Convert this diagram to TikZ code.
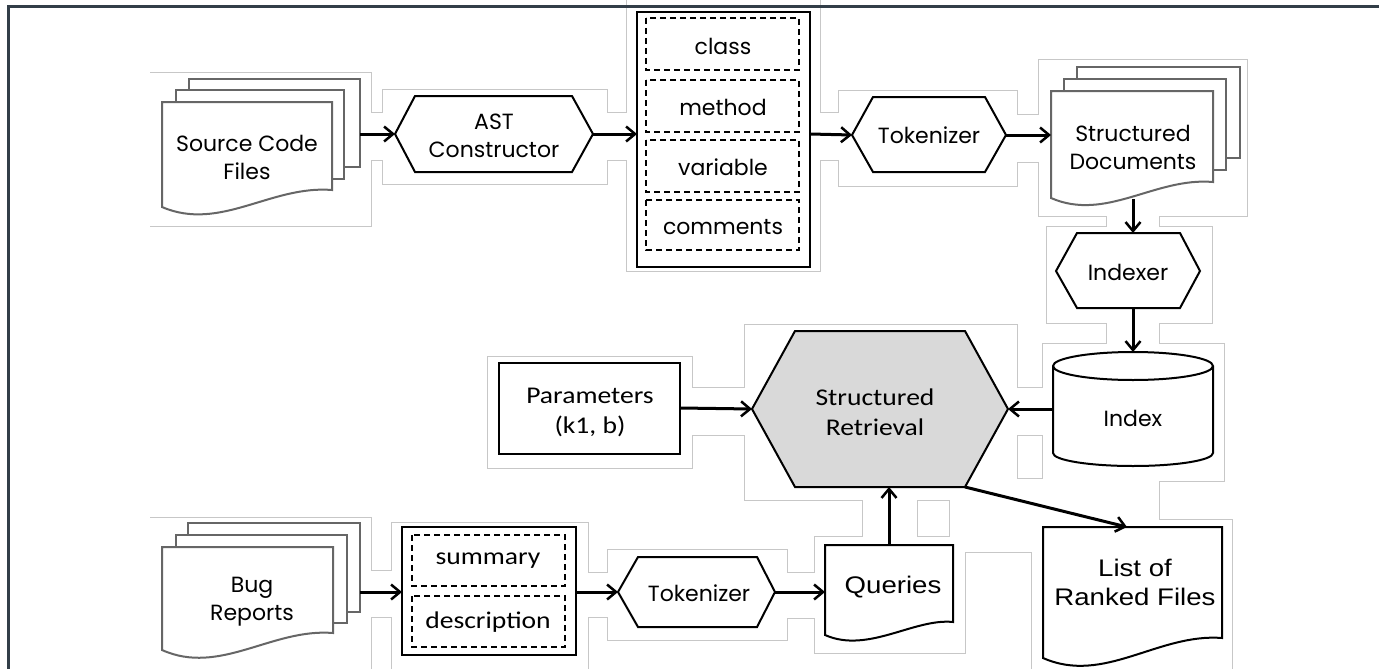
\documentclass[tikz,border=0pt]{standalone}
\usepackage{fontspec}
\setmainfont{Poppins}
\newfontfamily\calfont[FakeStretch=1.15]{Carlito}
\newfontfamily\arialfont[FakeStretch=1.15]{Liberation Sans}
\usetikzlibrary{arrows.meta}
\newcommand\geo{\fontsize{22}{28}\selectfont}
\newcommand\calf{\calfont\fontsize{24}{30}\selectfont}
\newcommand\arf{\arialfont\fontsize{24}{29}\selectfont}
\begin{document}
\begin{tikzpicture}[x=1pt,y=-1pt,
  shp/.style={line width=2pt, fill=white, draw=black},
  stk/.style={line width=2pt, fill=white, draw=black!60},
  dbox/.style={line width=1.5pt, draw=black, dash pattern=on 6pt off 4pt},
  arr/.style={line width=3pt, -{Straight Barb[length=9pt,width=15pt,line width=2.5pt]}},
  lbl/.style={font=\geo, align=center, inner sep=0pt},
  reg/.style={draw=black!22, line width=1.2pt}]
\useasboundingbox (0,0) rectangle (1379,669);
\fill[white] (0,0) rectangle (1379,669);
% faint region outlines
\begin{scope}
\clip (150,0) rectangle (1379,669);
\foreach \a/\b/\c/\d in {-20/73/371/226, 371/113/383/160, 383/90/607/184, 607/113/627/160, 627/-10/820/271, 820/113/839/160, 839/91/1017/186, 1017/115/1039/162, 1039/60/1247/216, 1107/216/1159/227, 1047/227/1212/323, 1107/323/1159/344, 1043/344/1224/481, 488/357/692/468, 692/388/745/435, 745/325/1017/500, 1017/388/1043/435, 950/479/1159/552, 1032/520/1232/690, 863/500/917/537, 815/537/965/653, 787/573/815/618, 608/550/787/640, 588/573/608/617, 392/523/588/690, 371/571/392/617, -20/518/371/690}
  \draw[reg] (\a,\b) rectangle (\c,\d);
\foreach \a/\b/\c/\d in {-20/73/371/226, 371/113/383/160, 383/90/607/184, 607/113/627/160, 627/-10/820/271, 820/113/839/160, 839/91/1017/186, 1017/115/1039/162, 1039/60/1247/216, 1107/216/1159/227, 1047/227/1212/323, 1107/323/1159/344, 1043/344/1224/481, 488/357/692/468, 692/388/745/435, 745/325/1017/500, 1017/388/1043/435, 950/479/1159/552, 1032/520/1232/690, 863/500/917/537, 815/537/965/653, 787/573/815/618, 608/550/787/640, 588/573/608/617, 392/523/588/690, 371/571/392/617, -20/518/371/690}
  \fill[white] (\a,\b) rectangle (\c,\d);
\end{scope}
% ---------- Source Code Files ----------
\draw[stk] (189,79) rectangle (360,167);
\draw[stk] (176,90) rectangle (344,179);
\draw[stk] (162,102) -- (332,102) -- (332,190) .. controls (271,185) and (220,232) .. (162,207) -- cycle;
\node[lbl] (src) at (247,157) {Source Code\\Files};
\coordinate (srcR) at (360,134);
% ---------- AST Constructor ----------
\draw[shp] (395,134) -- (415,96) -- (572,96) -- (593,134) -- (572,172) -- (415,172) -- cycle;
\node[lbl] (ast) at (494,136) {AST\\Constructor};
\coordinate (astL) at (395,134);
\coordinate (astR) at (593,134);
% ---------- class box ----------
\draw[shp] (637,12) rectangle (810,267);
\draw[dbox] (646,18) rectangle (799,70);
\draw[dbox] (646,80) rectangle (799,132);
\draw[dbox] (646,140) rectangle (799,192);
\draw[dbox] (646,200) rectangle (799,250);
\node[lbl] (cls) at (723,46) {class};
\node[lbl] (mth) at (723,107) {method};
\node[lbl] (var) at (723,167) {variable};
\node[lbl] (cmt) at (723,227) {comments};
\coordinate (clsL) at (637,134);
\coordinate (clsR) at (810,134);
% ---------- Tokenizer (top) ----------
\draw[shp] (852,135) -- (873,97) -- (985,97) -- (1006,135) -- (985,172) -- (873,172) -- cycle;
\node[lbl] (tok) at (929,135) {Tokenizer};
\coordinate (tokL) at (852,135);
\coordinate (tokR) at (1006,135);
% ---------- Structured Documents ----------
\draw[stk] (1077,67) rectangle (1240,158);
\draw[stk] (1064,79) rectangle (1226,170);
\draw[stk] (1051,91) -- (1213,91) -- (1213,182) .. controls (1155,177) and (1106,222) .. (1051,198) -- cycle;
\node[lbl] (sd) at (1133,147) {Structured\\Documents};
\coordinate (sdL) at (1051,135);
\coordinate (sdB) at (1133,199);
% ---------- Indexer ----------
\draw[shp] (1056,271) -- (1077,233) -- (1180,233) -- (1200,271) -- (1180,308) -- (1077,308) -- cycle;
\node[lbl] (ixr) at (1128,272) {Indexer};
\coordinate (ixrT) at (1133,233);
\coordinate (ixrB) at (1133,308);
% ---------- Index ----------
\draw[shp] (1053,366) -- (1053,453) arc[start angle=180,end angle=0,x radius=80,y radius=13] -- (1213,366) arc[start angle=0,end angle=-180,x radius=80,y radius=14] -- cycle;
\draw[line width=2pt] (1053,366) arc[start angle=180,end angle=0,x radius=80,y radius=14];
\node[lbl] (idx) at (1133,418) {Index};
\coordinate (idxT) at (1133,352);
\coordinate (idxL) at (1053,409);
% ---------- Structured Retrieval ----------
\draw[shp, fill=black!15] (752,409) -- (795,331) -- (965,331) -- (1008,409) -- (965,487) -- (795,487) -- cycle;
\node[font=\calf, align=center, inner sep=0pt] (sr) at (875,412) {Structured\\Retrieval};
\coordinate (srL) at (752,409);
\coordinate (srR) at (1008,409);
\coordinate (srB) at (889,487);
\coordinate (srBR) at (965,487);
% ---------- Parameters ----------
\draw[shp] (499,363) rectangle (680,454);
\node[font=\calf, align=center, inner sep=0pt] (par) at (590,412) {Parameters\\(k1, b)};
\coordinate (parR) at (680,408);
% ---------- Bug Reports ----------
\draw[stk] (188,523) rectangle (360,612);
\draw[stk] (176,535) rectangle (347,623);
\draw[stk] (162,547) -- (333,547) -- (333,633) .. controls (272,628) and (220,676) .. (162,650) -- cycle;
\node[lbl] (bug) at (252,602) {Bug\\Reports};
\coordinate (bugR) at (360,592);
% ---------- summary / description ----------
\draw[shp] (402,527) rectangle (576,655);
\draw[dbox] (412,535) rectangle (565,586);
\draw[dbox] (412,596) rectangle (565,647);
\node[font=\calf, inner sep=0pt] (sum) at (488,561) {summary};
\node[font=\calf, inner sep=0pt] (dsc) at (488,622) {description};
\coordinate (sumL) at (402,592);
\coordinate (sumR) at (576,592);
% ---------- Tokenizer (bottom) ----------
\draw[shp] (618,592) -- (638,557) -- (757,557) -- (775,592) -- (757,627) -- (638,627) -- cycle;
\node[lbl] (tok2) at (699,593) {Tokenizer};
\coordinate (tok2L) at (618,592);
\coordinate (tok2R) at (775,592);
% ---------- Queries ----------
\draw[shp] (825,545) -- (953,545) -- (953,622) .. controls (914,618) and (868,654) .. (825,635) -- cycle;
\node[font=\arf, inner sep=0pt] (qry) at (893,587) {Queries};
\coordinate (qryL) at (825,592);
\coordinate (qryT) at (889,545);
% ---------- List of Ranked Files ----------
\draw[shp] (1043,527) -- (1222,527) -- (1222,638) .. controls (1158,633) and (1104,685) .. (1043,658) -- cycle;
\node[font=\arf, align=center, inner sep=0pt] (lst) at (1135,582) {List of\\Ranked Files};
\coordinate (lstT) at (1127,527);
% ---------- connectors ----------
\draw[arr] (srcR) -- (astL);
\draw[arr] (astR) -- (clsL);
\draw[arr] (clsR) -- (tokL);
\draw[arr] (tokR) -- (sdL);
\draw[arr] (sdB) -- (ixrT);
\draw[arr] (ixrB) -- (idxT);
\draw[arr] (idxL) -- (srR);
\draw[arr] (parR) -- (srL);
\draw[arr] (qryT) -- (srB);
\draw[arr] (srBR) -- (lstT);
\draw[arr] (bugR) -- (sumL);
\draw[arr] (sumR) -- (tok2L);
\draw[arr] (tok2R) -- (qryL);
% frame
\draw[line width=3pt, color={rgb,255:red,50;green,62;blue,72}] (8,7) rectangle (1395,690);
\end{tikzpicture}
\end{document}
